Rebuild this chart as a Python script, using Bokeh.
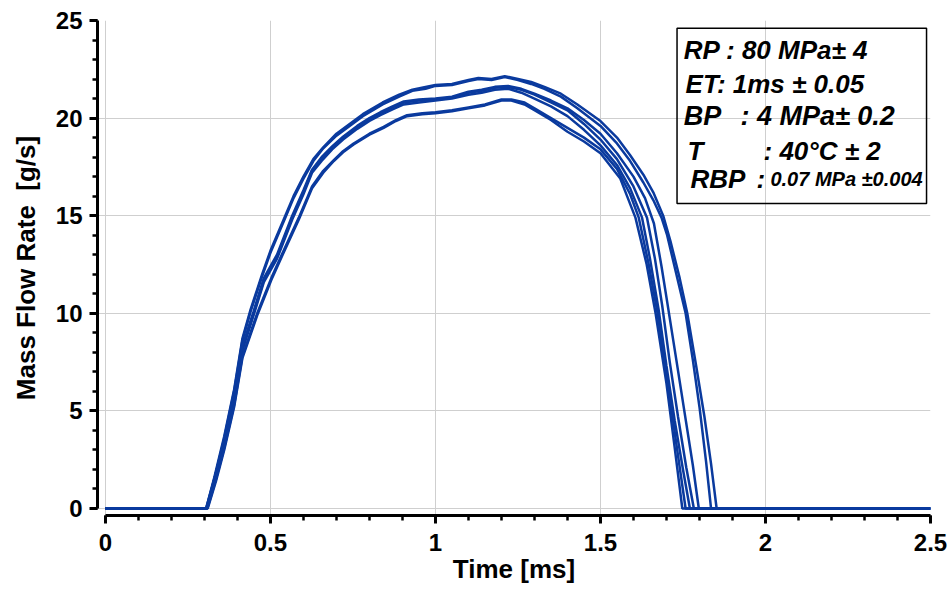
from bokeh.plotting import figure
from bokeh.models import Range1d, FixedTicker, NumeralTickFormatter, Label, BoxAnnotation
from bokeh.embed import file_html
from bokeh.resources import INLINE

# ---------------- data ----------------
x_ticks = [0, 0.5, 1.0, 1.5, 2.0, 2.5]
y_ticks = [0, 5, 10, 15, 20, 25]

time_a1 = [0.0, 0.305, 0.33, 0.36, 0.39, 0.415, 0.44, 0.475, 0.5, 0.545,
           0.57, 0.6, 0.63, 0.66, 0.7, 0.74, 0.78, 0.84, 0.89, 0.93,
           0.97, 1.0, 1.05, 1.1, 1.13, 1.17, 1.21, 1.25, 1.29, 1.33,
           1.38, 1.43, 1.5, 1.55, 1.59, 1.63, 1.66, 1.685, 1.702, 1.73,
           1.758, 1.78, 1.8, 1.82, 1.835, 2.5]
flow_a1 = [0, 0, 1.5, 3.6, 6.0, 8.6, 10.1, 11.9, 13.1, 14.9,
           15.9, 16.9, 17.8, 18.45, 19.1, 19.6, 20.1, 20.7, 21.1, 21.4,
           21.5, 21.65, 21.7, 21.9, 22.0, 21.95, 22.1, 21.95, 21.75, 21.5,
           21.1, 20.5, 19.6, 18.7, 17.8, 16.7, 15.8, 14.9, 14.0, 12.0,
           10.0, 7.6, 5.2, 2.4, 0, 0]

time_a2 = [0.0, 0.305, 0.33, 0.36, 0.39, 0.415, 0.44, 0.475, 0.5, 0.545,
           0.57, 0.6, 0.63, 0.66, 0.7, 0.74, 0.78, 0.84, 0.89, 0.93,
           0.97, 1.0, 1.05, 1.1, 1.13, 1.17, 1.21, 1.25, 1.29, 1.33,
           1.38, 1.43, 1.5, 1.55, 1.59, 1.63, 1.66, 1.69, 1.712, 1.74,
           1.763, 1.79, 1.815, 1.835, 1.852, 2.5]
flow_a2 = [0, 0, 1.6, 3.7, 6.1, 8.7, 10.2, 12.0, 13.2, 15.0,
           16.0, 17.0, 17.9, 18.5, 19.2, 19.7, 20.2, 20.8, 21.2, 21.45,
           21.6, 21.7, 21.75, 21.95, 22.05, 22.0, 22.15, 22.0, 21.85, 21.6,
           21.25, 20.7, 19.85, 19.0, 18.1, 17.1, 16.2, 15.0, 13.7, 11.8,
           10.0, 7.3, 4.7, 2.3, 0, 0]

time_b1 = [0.0, 0.307, 0.33, 0.36, 0.39, 0.415, 0.449, 0.48, 0.52, 0.566,
           0.6, 0.626, 0.655, 0.687, 0.72, 0.763, 0.8, 0.833, 0.87, 0.904,
           0.95, 1.0, 1.05, 1.1, 1.14, 1.18, 1.22, 1.26, 1.3, 1.35,
           1.4, 1.45, 1.5, 1.55, 1.59, 1.626, 1.65, 1.677, 1.7, 1.725,
           1.75, 1.771, 2.5]
flow_b1 = [0, 0, 1.4, 3.3, 5.6, 8.1, 9.9, 11.6, 12.8, 14.8,
           16.1, 17.2, 17.8, 18.4, 18.9, 19.45, 19.85, 20.15, 20.45, 20.7,
           20.8, 20.9, 21.0, 21.2, 21.3, 21.45, 21.5, 21.3, 21.0, 20.6,
           20.1, 19.4, 18.6, 17.6, 16.4, 14.9, 12.8, 10.1, 7.3, 4.5,
           2.0, 0, 0]

time_b2 = [0.0, 0.306, 0.33, 0.36, 0.39, 0.415, 0.449, 0.48, 0.52, 0.566,
           0.6, 0.626, 0.655, 0.687, 0.72, 0.763, 0.8, 0.833, 0.87, 0.904,
           0.95, 1.0, 1.05, 1.1, 1.14, 1.18, 1.22, 1.26, 1.3, 1.35,
           1.4, 1.45, 1.5, 1.55, 1.6, 1.641, 1.665, 1.687, 1.71, 1.735,
           1.76, 1.783, 2.5]
flow_b2 = [0, 0, 1.5, 3.4, 5.7, 8.2, 10.0, 11.7, 12.9, 14.9,
           16.2, 17.3, 17.9, 18.5, 19.0, 19.55, 19.95, 20.25, 20.55, 20.8,
           20.9, 20.95, 21.05, 21.3, 21.4, 21.55, 21.6, 21.45, 21.2, 20.8,
           20.4, 19.7, 18.9, 17.9, 16.5, 14.9, 12.8, 10.4, 7.5, 4.7,
           2.1, 0, 0]

time_b3 = [0.0, 0.308, 0.33, 0.36, 0.39, 0.415, 0.449, 0.48, 0.52, 0.566,
           0.6, 0.626, 0.655, 0.687, 0.72, 0.763, 0.8, 0.833, 0.87, 0.904,
           0.95, 1.0, 1.05, 1.1, 1.14, 1.18, 1.22, 1.26, 1.3, 1.35,
           1.4, 1.45, 1.5, 1.55, 1.6, 1.635, 1.662, 1.685, 1.702, 1.73,
           1.755, 1.78, 1.798, 2.5]
flow_b3 = [0, 0, 1.5, 3.5, 5.8, 8.3, 10.1, 11.8, 13.0, 15.0,
           16.3, 17.35, 18.0, 18.55, 19.05, 19.6, 20.0, 20.3, 20.6, 20.85,
           20.95, 21.0, 21.1, 21.35, 21.45, 21.6, 21.65, 21.5, 21.25, 20.9,
           20.5, 19.9, 19.2, 18.2, 17.0, 15.9, 14.6, 12.4, 10.6, 7.6,
           4.9, 2.2, 0, 0]

time_c1 = [0.0, 0.31, 0.335, 0.36, 0.39, 0.415, 0.46, 0.505, 0.545, 0.586,
           0.626, 0.66, 0.692, 0.72, 0.752, 0.8, 0.843, 0.88, 0.914, 0.96,
           1.0, 1.05, 1.1, 1.15, 1.2, 1.23, 1.27, 1.3, 1.35, 1.4,
           1.45, 1.5, 1.56, 1.606, 1.64, 1.667, 1.7, 1.725, 1.748, 2.5]
flow_c1 = [0, 0, 1.4, 3.0, 5.2, 7.7, 9.9, 11.8, 13.3, 14.8,
           16.4, 17.2, 17.8, 18.25, 18.65, 19.15, 19.5, 19.85, 20.1, 20.2,
           20.25, 20.35, 20.5, 20.65, 20.9, 20.9, 20.7, 20.4, 19.9, 19.3,
           18.8, 18.2, 16.9, 14.9, 12.5, 10.0, 6.4, 3.1, 0, 0]

time_c2 = [0.0, 0.309, 0.335, 0.36, 0.39, 0.415, 0.46, 0.505, 0.545, 0.586,
           0.626, 0.66, 0.692, 0.72, 0.752, 0.8, 0.843, 0.88, 0.914, 0.96,
           1.0, 1.05, 1.1, 1.15, 1.2, 1.23, 1.27, 1.3, 1.35, 1.4,
           1.45, 1.5, 1.55, 1.59, 1.616, 1.645, 1.672, 1.7, 1.73, 1.758, 2.5]
flow_c2 = [0, 0, 1.5, 3.1, 5.3, 7.8, 10.0, 11.9, 13.4, 14.9,
           16.5, 17.3, 17.85, 18.3, 18.7, 19.2, 19.55, 19.9, 20.15, 20.25,
           20.3, 20.4, 20.55, 20.7, 20.95, 20.95, 20.8, 20.5, 20.0, 19.5,
           19.0, 18.4, 17.4, 16.1, 14.9, 12.6, 10.1, 6.9, 3.3, 0, 0]

curves = [(time_a1, flow_a1), (time_a2, flow_a2), (time_b1, flow_b1),
          (time_b2, flow_b2), (time_b3, flow_b3), (time_c1, flow_c1),
          (time_c2, flow_c2)]

x_label = "Time [ms]"
y_label = "Mass Flow Rate\u00a0 [g/s]"

# ---------------- figure ----------------
FONT = "Liberation Sans"
LINE_COLOR = "#0a3a9e"

p = figure(width=952, height=589, output_backend="svg", toolbar_location=None,
           x_range=Range1d(-0.024, 2.5), y_range=Range1d(-0.36, 25),
           min_border_left=97, min_border_right=22, min_border_top=20,
           min_border_bottom=74)
p.outline_line_color = None
p.background_fill_color = "white"
p.border_fill_color = "white"

p.xaxis.ticker = FixedTicker(ticks=x_ticks, minor_ticks=[i / 10 for i in range(26)])
p.yaxis.ticker = FixedTicker(ticks=y_ticks, minor_ticks=list(range(26)))
p.xaxis.formatter = NumeralTickFormatter(format="0.[0]")
p.yaxis.formatter = NumeralTickFormatter(format="0")
p.xaxis.bounds = (0, 2.5)
p.yaxis.bounds = (0, 25)

for ax in (p.xaxis[0], p.yaxis[0]):
    ax.axis_line_width = 3
    ax.axis_line_color = "black"
    ax.major_tick_line_width = 3
    ax.minor_tick_line_width = 2.5
    ax.major_tick_out = 8
    ax.major_tick_in = 0
    ax.minor_tick_out = 5
    ax.minor_tick_in = 0
    ax.major_label_text_font = FONT
    ax.major_label_text_font_size = "24px"
    ax.major_label_text_font_style = "bold"
    ax.major_label_text_color = "black"
    ax.axis_label_text_font = FONT
    ax.axis_label_text_font_size = "26px"
    ax.axis_label_text_font_style = "bold"
    ax.axis_label_text_color = "black"

p.xaxis.axis_label = x_label
p.yaxis.axis_label = y_label
p.xaxis.major_label_standoff = 10
p.yaxis.major_label_standoff = 7
p.xaxis.axis_label_standoff = 0
p.yaxis.axis_label_standoff = 12

p.xgrid.grid_line_color = "#cfcfcf"
p.ygrid.grid_line_color = "#cfcfcf"
p.xgrid.grid_line_width = 1
p.ygrid.grid_line_width = 1

for t, f in curves:
    p.line(t, f, line_color=LINE_COLOR, line_width=2.5)

# ---------------- annotation box ----------------
p.add_layout(BoxAnnotation(left=1.732, right=2.488, top=24.6, bottom=15.63,
                           fill_alpha=0, line_color="black", line_alpha=1.0,
                           line_width=1.5))

legend_texts = [
    ("RP : 80 MPa\u00b1 4", 1.752, 23.48, "26px"),
    ("ET: 1ms \u00b1 0.05", 1.758, 21.73, "26px"),
    ("BP", 1.752, 20.09, "27px"),
    (": 4 MPa\u00b1 0.2", 1.924, 20.09, "27px"),
    ("T", 1.764, 18.3, "26px"),
    (": 40\u00b0C \u00b1 2", 1.994, 18.3, "26px"),
    ("RBP", 1.773, 16.86, "26px"),
    (":", 1.973, 16.86, "26px"),
    ("0.07 MPa \u00b10.004", 2.015, 16.86, "20px"),
]
for txt, lx, ly, size in legend_texts:
    p.add_layout(Label(x=lx, y=ly, text=txt, text_font=FONT,
                       text_font_size=size, text_font_style="bold italic",
                       text_color="black", text_align="left",
                       text_baseline="alphabetic"))

open("out.html", "w").write(file_html(p, INLINE))
